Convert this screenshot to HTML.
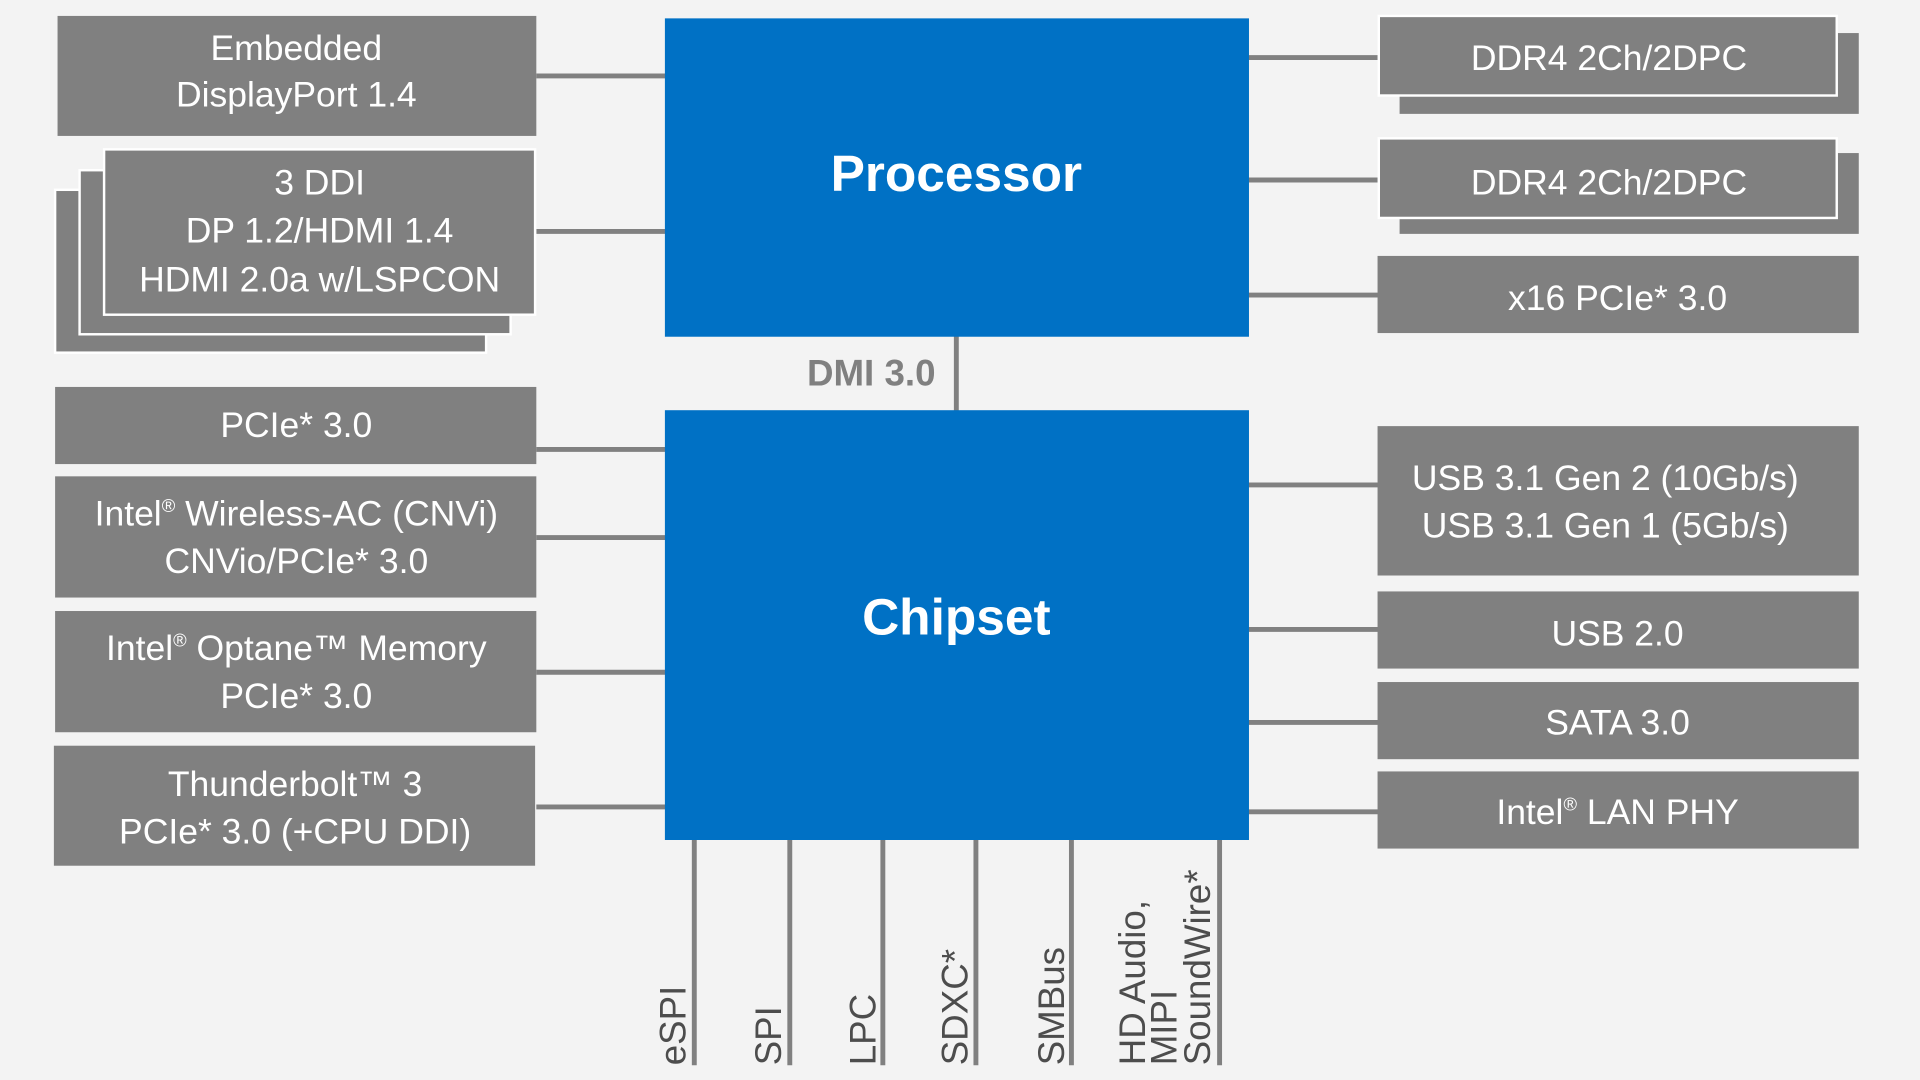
<!DOCTYPE html>
<html><head><meta charset="utf-8"><style>
html,body{margin:0;padding:0;background:#f3f3f3;overflow:hidden}
svg{display:block}
text{font-family:"Liberation Sans","DejaVu Sans",sans-serif}
.b{fill:#808080}
.w{fill:#fff;font-size:29px;text-anchor:middle}
.l{stroke:#808080;stroke-width:4}
.v{fill:#4d4d4d;font-size:30px}
</style></head><body>
<svg width="1920" height="1080" viewBox="0 0 1568 882" xmlns="http://www.w3.org/2000/svg">
<rect width="1568" height="882" fill="#f3f3f3"/>
<!-- connectors -->
<g class="l">
<line x1="438" y1="62" x2="545" y2="62"/>
<line x1="438" y1="189" x2="545" y2="189"/>
<line x1="438" y1="367" x2="545" y2="367"/>
<line x1="438" y1="439" x2="545" y2="439"/>
<line x1="438" y1="549" x2="545" y2="549"/>
<line x1="438" y1="659" x2="545" y2="659"/>
<line x1="1018" y1="47" x2="1128" y2="47"/>
<line x1="1018" y1="147" x2="1128" y2="147"/>
<line x1="1018" y1="241" x2="1128" y2="241"/>
<line x1="1018" y1="396" x2="1128" y2="396"/>
<line x1="1018" y1="514" x2="1128" y2="514"/>
<line x1="1018" y1="590" x2="1128" y2="590"/>
<line x1="1018" y1="663" x2="1128" y2="663"/>
<line x1="781" y1="273" x2="781" y2="337"/>
<line x1="567" y1="684" x2="567" y2="870"/>
<line x1="645" y1="684" x2="645" y2="870"/>
<line x1="721" y1="684" x2="721" y2="870"/>
<line x1="797" y1="684" x2="797" y2="870"/>
<line x1="875" y1="684" x2="875" y2="870"/>
<line x1="996" y1="684" x2="996" y2="870"/>
</g>
<!-- left boxes -->
<rect class="b" x="47" y="13" width="391" height="98"/>
<text class="w" x="242" y="49">Embedded</text>
<text class="w" x="242" y="87">DisplayPort 1.4</text>
<rect class="b" x="45" y="155" width="352" height="133" stroke="#fff" stroke-width="2"/>
<rect class="b" x="65" y="139" width="352" height="134" stroke="#fff" stroke-width="2"/>
<rect class="b" x="85" y="122" width="352" height="135" stroke="#fff" stroke-width="2"/>
<text class="w" x="261" y="159">3 DDI</text>
<text class="w" x="261" y="198">DP 1.2/HDMI 1.4</text>
<text class="w" x="261" y="238">HDMI 2.0a w/LSPCON</text>
<rect class="b" x="45" y="316" width="393" height="63"/>
<text class="w" x="242" y="357">PCIe* 3.0</text>
<rect class="b" x="45" y="389" width="393" height="99"/>
<text class="w" x="242" y="429">Intel<tspan font-size="15" dy="-11">®</tspan><tspan dy="11"> Wireless-AC (CNVi)</tspan></text>
<text class="w" x="242" y="468">CNVio/PCIe* 3.0</text>
<rect class="b" x="45" y="499" width="393" height="99"/>
<text class="w" x="242" y="539">Intel<tspan font-size="15" dy="-11">®</tspan><tspan dy="11"> Optane™ Memory</tspan></text>
<text class="w" x="242" y="578">PCIe* 3.0</text>
<rect class="b" x="44" y="609" width="393" height="98"/>
<text class="w" x="241" y="650">Thunderbolt™ 3</text>
<text class="w" x="241" y="689">PCIe* 3.0 (+CPU DDI)</text>
<!-- center -->
<rect x="543" y="15" width="477" height="260" fill="#0071c5"/>
<text x="781" y="156" fill="#fff" font-size="42" font-weight="bold" text-anchor="middle">Processor</text>
<text x="764" y="315" fill="#808080" font-size="30" font-weight="bold" text-anchor="end">DMI 3.0</text>
<rect x="543" y="335" width="477" height="351" fill="#0071c5"/>
<text x="781" y="518" fill="#fff" font-size="42" font-weight="bold" text-anchor="middle">Chipset</text>
<!-- right boxes -->
<rect class="b" x="1143" y="27" width="375" height="66"/>
<rect class="b" x="1126" y="13" width="374" height="65" stroke="#fff" stroke-width="2"/>
<text class="w" x="1314" y="57">DDR4 2Ch/2DPC</text>
<rect class="b" x="1143" y="125" width="375" height="66"/>
<rect class="b" x="1126" y="113" width="374" height="65" stroke="#fff" stroke-width="2"/>
<text class="w" x="1314" y="159">DDR4 2Ch/2DPC</text>
<rect class="b" x="1125" y="209" width="393" height="63"/>
<text class="w" x="1321" y="253">x16 PCIe* 3.0</text>
<rect class="b" x="1125" y="348" width="393" height="122"/>
<text class="w" x="1311" y="400">USB 3.1 Gen 2 (10Gb/s)</text>
<text class="w" x="1311" y="439">USB 3.1 Gen 1 (5Gb/s)</text>
<rect class="b" x="1125" y="483" width="393" height="63"/>
<text class="w" x="1321" y="527">USB 2.0</text>
<rect class="b" x="1125" y="557" width="393" height="63"/>
<text class="w" x="1321" y="600">SATA 3.0</text>
<rect class="b" x="1125" y="630" width="393" height="63"/>
<text class="w" x="1321" y="673">Intel<tspan font-size="15" dy="-11">®</tspan><tspan dy="11"> LAN PHY</tspan></text>
<!-- bottom labels -->
<text class="v" transform="translate(560,870) rotate(-90)">eSPI</text>
<text class="v" transform="translate(638,870) rotate(-90)">SPI</text>
<text class="v" transform="translate(715,870) rotate(-90)">LPC</text>
<text class="v" transform="translate(790,870) rotate(-90)">SDXC*</text>
<text class="v" transform="translate(869,870) rotate(-90)">SMBus</text>
<text class="v" transform="translate(935,870) rotate(-90)">HD Audio,</text>
<text class="v" transform="translate(961,870) rotate(-90)">MIPI</text>
<text class="v" transform="translate(988,870) rotate(-90)">SoundWire*</text>
</svg>
</body></html>
